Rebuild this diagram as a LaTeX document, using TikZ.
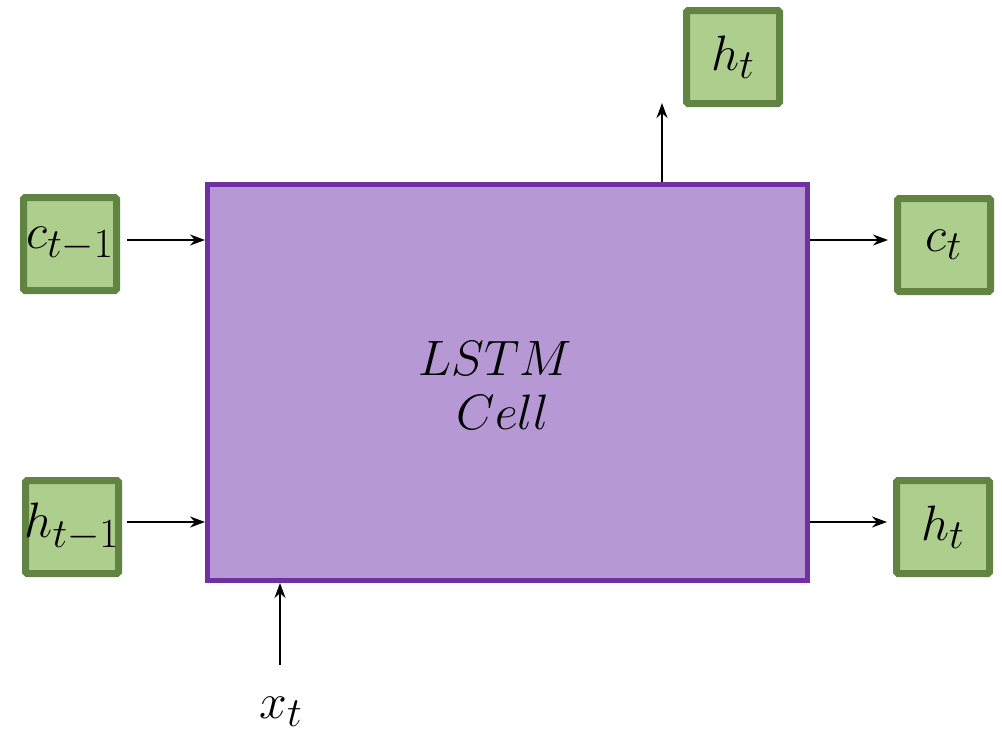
\documentclass[tikz,border=0pt]{standalone}
\usetikzlibrary{arrows.meta}
\definecolor{gborder}{RGB}{98,132,67}
\definecolor{gfill}{RGB}{174,206,142}
\definecolor{pborder}{RGB}{112,48,160}
\definecolor{pfill}{RGB}{181,152,212}
\newcommand{\lblmath}[1]{\makebox[0pt]{\scalebox{2.0}{$#1$}}}
\tikzset{
  gbox/.style={draw=gborder, fill=gfill, line width=7pt, minimum width=93pt, minimum height=93pt, inner sep=0pt, rounded corners=1.5pt, font=\Huge},
  cellbox/.style={draw=pborder, fill=pfill, line width=5pt, minimum width=600pt, minimum height=396pt, inner sep=0pt},
  arr/.style={-{Stealth[length=15pt,width=11pt]}, line width=1.8pt, black},
  lbl/.style={inner sep=0pt, font=\Huge}
}
\begin{document}
\begin{tikzpicture}[x=1pt,y=-1pt]
\useasboundingbox (0,0) rectangle (1002,736);
\node[cellbox] (cell) at (507.5,382.5) {};
\node[lbl] (lstm) at (495,358) {\scalebox{2.0}{$LSTM$}};
\node[lbl] (celltxt) at (503,412) {\scalebox{2.0}{$Cell$}};
\node[gbox] (cprev) at (70,244) {\lblmath{c_{t-1}}};
\node[gbox] (hprev) at (72,527) {\lblmath{h_{t-1}}};
\node[gbox] (htop) at (733,57) {\lblmath{h_t}};
\node[gbox] (cnext) at (944,245) {\lblmath{c_t}};
\node[gbox] (hnext) at (943,527) {\lblmath{h_t}};
\node[lbl] (xt) at (281,712) {\lblmath{x_t}};
\coordinate (topend) at (662,103);
\coordinate (xstart) at (280,665);
\draw[arr, shorten <=7pt] (cprev.east |- 0,240) -- (cell.west |- 0,240);
\draw[arr, shorten <=5pt] (hprev.east |- 0,522) -- (cell.west |- 0,522);
\draw[arr, shorten >=6pt] (cell.east |- 0,240) -- (cnext.west |- 0,240);
\draw[arr, shorten >=6pt] (cell.east |- 0,522) -- (hnext.west |- 0,522);
\draw[arr] (cell.north -| topend) -- (topend);
\draw[arr] (xstart) -- (cell.south -| xstart);
\end{tikzpicture}
\end{document}
